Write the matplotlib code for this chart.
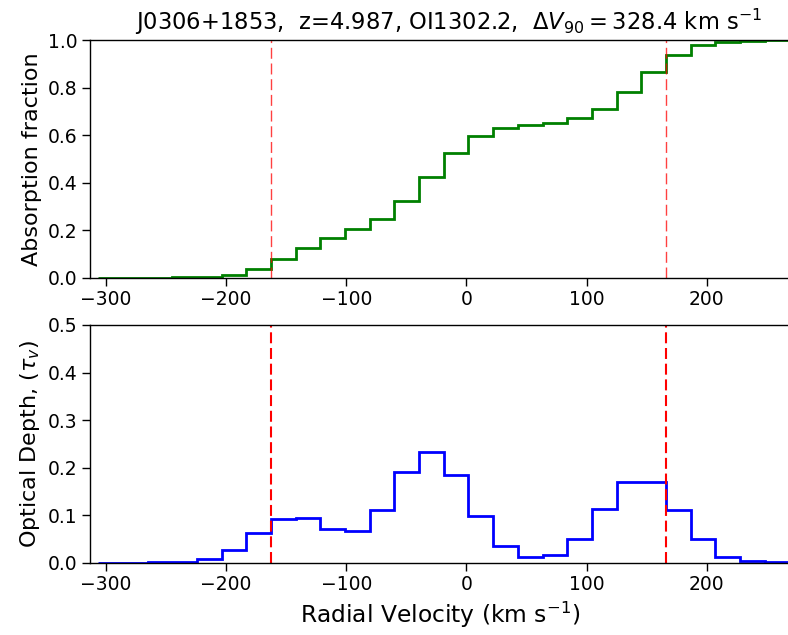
import matplotlib
matplotlib.use("Agg")
import matplotlib.pyplot as plt
import numpy as np

# Velocity bin edges (km/s)
vel_edges = [-306.2, -285.7, -265.1, -244.6, -224.1, -203.6, -183.0, -162.5,
             -142.0, -121.5, -100.9, -80.4, -59.9, -39.3, -18.8, 1.7, 22.2,
             42.8, 63.3, 83.8, 104.3, 124.9, 145.4, 165.9, 186.4, 207.0,
             227.5, 248.0, 268.5]

# Cumulative absorption fraction per bin
abs_frac = [0.0, 0.0, 0.0, 0.001, 0.004, 0.013, 0.038, 0.077, 0.124, 0.167,
            0.204, 0.247, 0.323, 0.425, 0.526, 0.596, 0.631, 0.642, 0.652,
            0.671, 0.711, 0.783, 0.865, 0.937, 0.978, 0.992, 0.997, 1.0]

# Optical depth per bin
tau = [0.0, 0.0, 0.0005, 0.0015, 0.008, 0.027, 0.0625, 0.0926, 0.0934, 0.070,
       0.066, 0.1115, 0.191, 0.232, 0.185, 0.098, 0.036, 0.011, 0.016, 0.050,
       0.113, 0.170, 0.169, 0.1115, 0.049, 0.0126, 0.004, 0.001]

v_lo, v_hi = -162.5, 165.9
xticks = [-300, -200, -100, 0, 100, 200]
title = r"J0306+1853,  z=4.987, OI1302.2,  $\Delta V_{90} = $328.4 km s$^{-1}$"

plt.rcParams['font.family'] = ['DejaVu Sans']
plt.rcParams['mathtext.fontset'] = 'dejavusans'
plt.rcParams['lines.scale_dashes'] = False

fig = plt.figure(figsize=(7.88, 6.35), dpi=100)
ax1 = fig.add_axes([0.1142, 0.5627, 0.8875, 0.3743])
ax2 = fig.add_axes([0.1142, 0.1139, 0.8875, 0.3743])

ax1.stairs(abs_frac, vel_edges, baseline=None, color='green', lw=2.0)
ax1.axvline(v_lo, color='red', lw=1.0, alpha=0.75, dashes=(7.9, 3.4))
ax1.axvline(v_hi, color='red', lw=1.0, alpha=0.75, dashes=(7.9, 3.4))
ax1.set_ylim(0, 1.0)
ax1.set_ylabel("Absorption fraction", fontsize=16)
ax1.set_title(title, fontsize=16.3, pad=7, x=0.513)

ax2.stairs(tau, vel_edges, baseline=None, color='blue', lw=2.0)
ax2.axvline(v_lo, color='red', lw=1.5, dashes=(7.9, 3.4))
ax2.axvline(v_hi, color='red', lw=1.5, dashes=(7.9, 3.4))
ax2.set_ylim(0, 0.5)
ax2.set_ylabel(r"Optical Depth, ($\tau_v$)", fontsize=16)
ax2.set_xlabel(r"Radial Velocity (km s$^{-1}$)", fontsize=16.8)

for ax in (ax1, ax2):
    ax.set_xlim(-313.1, 268.6)
    ax.set_xticks(xticks)
    ax.tick_params(labelsize=13.5, length=5.5, width=1)
    for s in ax.spines.values():
        s.set_linewidth(1.0)

fig.savefig("out.png", dpi=100)
